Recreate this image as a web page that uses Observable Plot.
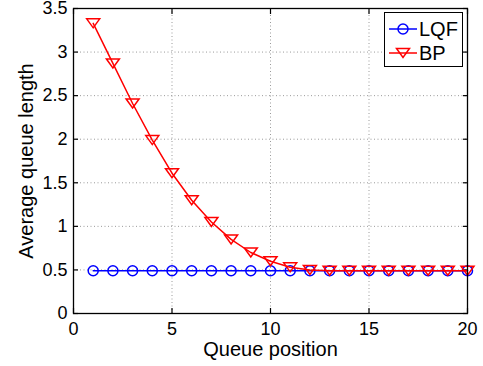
<!DOCTYPE html>
<html><head><meta charset="utf-8">
<script src="https://cdn.jsdelivr.net/npm/d3@7"></script>
<script src="https://cdn.jsdelivr.net/npm/@observablehq/plot@0.6"></script>
<style>
body{margin:0;background:#fff;font-family:"Liberation Sans",Arial,sans-serif;}
#wrap{position:relative;width:483px;height:366px;}
#legend{position:absolute;left:384px;top:12px;width:77px;height:53px;border:1px solid #000;background:#fff;font-size:20px;}
.row{position:absolute;left:3px;display:flex;align-items:center;height:24px;}
#chart svg text{font-family:"Liberation Sans",Arial,sans-serif;fill:#000;}
</style></head><body>
<div id="wrap"><div id="chart"></div>
<div id="legend">
<div class="row" style="top:4px"><svg width="30" height="20"><line x1="1" y1="10" x2="29" y2="10" stroke="#0000ff" stroke-width="1.5"/><circle cx="15" cy="10" r="5" fill="none" stroke="#0000ff" stroke-width="1.5"/></svg><span style="margin-left:1px">LQF</span></div>
<div class="row" style="top:28px"><svg width="30" height="20"><line x1="1" y1="10" x2="29" y2="10" stroke="#ff0000" stroke-width="1.5"/><path d="M8.5,5.5 L21.5,5.5 L15,14.5 Z" fill="none" stroke="#ff0000" stroke-width="1.5"/></svg><span style="margin-left:1px">BP</span></div>
</div></div>
<script>
const positions = [1,2,3,4,5,6,7,8,9,10,11,12,13,14,15,16,17,18,19,20];
const lqf = [0.49,0.49,0.49,0.49,0.49,0.49,0.49,0.49,0.49,0.49,0.49,0.49,0.49,0.49,0.49,0.49,0.49,0.49,0.49,0.49];
const bp = [3.33,2.87,2.41,1.99,1.61,1.30,1.05,0.85,0.70,0.60,0.53,0.50,0.49,0.49,0.49,0.49,0.49,0.49,0.49,0.49];
const xTicks = [0,5,10,15,20];
const yTicks = [0,0.5,1,1.5,2,2.5,3,3.5];
const xLabel = "Queue position";
const yLabel = "Average queue length";
const lqfData = positions.map((p,i)=>({x:p,y:lqf[i]}));
const bpData = positions.map((p,i)=>({x:p,y:bp[i]}));
const fmt = d => String(d);
// MATLAB-style downward triangle marker (wider than tall)
const triDown = {
  draw(ctx, size) {
    const r = Math.sqrt(size / Math.PI);
    const w = 1.3 * r, h = 0.9 * r;
    ctx.moveTo(-w, -h);
    ctx.lineTo(w, -h);
    ctx.lineTo(0, h);
    ctx.closePath();
  }
};
const chart = Plot.plot({
  width:483, height:366,
  marginLeft:73, marginRight:16, marginTop:8, marginBottom:53,
  style:{background:"#fff", color:"#000"},
  x:{domain:[0,20]},
  y:{domain:[0,3.5]},
  marks:[
    Plot.ruleX(xTicks.slice(1,-1), {stroke:"#9a9a9a", strokeDasharray:"1,2.5", strokeWidth:1}),
    Plot.ruleY(yTicks.slice(1,-1), {stroke:"#9a9a9a", strokeDasharray:"1,2.5", strokeWidth:1}),
    Plot.axisX(xTicks, {anchor:"bottom", tickSize:-5, tickPadding:14, tickFormat:fmt, label:null, strokeWidth:1.2}),
    Plot.axisX(xTicks, {anchor:"top", tickSize:-5, tickFormat:()=>"", label:null, strokeWidth:1.2}),
    Plot.axisY(yTicks, {anchor:"left", tickSize:-5, tickPadding:11, tickFormat:fmt, label:null, strokeWidth:1.2}),
    Plot.axisY(yTicks, {anchor:"right", tickSize:-5, tickFormat:()=>"", label:null, strokeWidth:1.2}),
    Plot.text([xLabel], {frameAnchor:"bottom", textAnchor:"middle", lineAnchor:"middle", dy:36}),
    Plot.text([yLabel], {frameAnchor:"left", textAnchor:"middle", lineAnchor:"middle", dx:-47, rotate:-90}),
    Plot.line(lqfData, {x:"x", y:"y", stroke:"#0000ff", strokeWidth:1.5}),
    Plot.dot(lqfData, {x:"x", y:"y", r:5, stroke:"#0000ff", strokeWidth:1.5, fill:"none"}),
    Plot.line(bpData, {x:"x", y:"y", stroke:"#ff0000", strokeWidth:1.5}),
    Plot.dot(bpData, {x:"x", y:"y", r:5, symbol:triDown, stroke:"#ff0000", strokeWidth:1.5, fill:"none"}),
    Plot.frame({stroke:"#000", strokeWidth:1.3})
  ]
});
d3.select(chart).selectAll("text").each(function(){
  const t = this.textContent;
  this.style.fontSize = (t === xLabel || t === yLabel) ? "20px" : "18px";
});
document.getElementById("chart").appendChild(chart);
</script>
</body></html>
